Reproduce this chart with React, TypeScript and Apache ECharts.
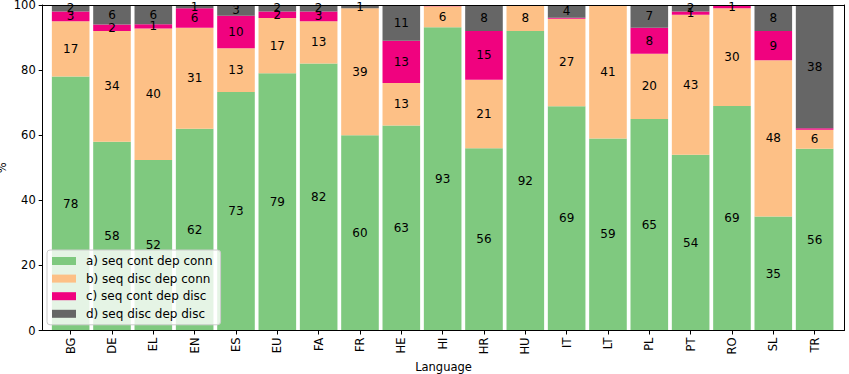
import React, { useEffect, useRef } from "react";
import * as echarts from "echarts";

// Share (%) of each dependency pattern per language
const languages = [
  "BG", "DE", "EL", "EN", "ES", "EU", "FA", "FR", "HE", "HI",
  "HR", "HU", "IT", "LT", "PL", "PT", "RO", "SL", "TR",
];
const seqContDepConn = [78, 58, 52.4, 62, 73.3, 79, 82, 60, 63, 93.2, 56, 92, 68.9, 59, 65, 54, 69, 35, 55.8];
const seqDiscDepConn = [17, 34, 40.4, 31, 13.4, 17, 13, 39, 13, 6.4, 21, 8, 26.9, 41, 20, 43, 30, 48, 5.9];
const seqContDepDisc = [3, 2, 1.3, 6, 10, 2, 3, 0, 13, 0.4, 15, 0, 0.3, 0, 8, 1, 1, 9, 0.4];
const seqDiscDepDisc = [2, 6, 5.9, 1, 3.3, 2, 2, 1, 11, 0, 8, 0, 3.9, 0, 7, 2, 0, 8, 37.9];
const yTicks = [0, 20, 40, 60, 80, 100];

const seriesDefs = [
  { name: "a) seq cont dep conn", data: seqContDepConn, color: "#7fc97f" },
  { name: "b) seq disc dep conn", data: seqDiscDepConn, color: "#fdc086" },
  { name: "c) seq cont dep disc", data: seqContDepDisc, color: "#f0027f" },
  { name: "d) seq disc dep disc", data: seqDiscDepDisc, color: "#666666" },
];

const FONT = "DejaVu Sans";

export default function App() {
  const ref = useRef<HTMLDivElement>(null);

  useEffect(() => {
    if (!ref.current) return;
    const chart = echarts.init(ref.current, null, { renderer: "svg" });

    // grid 0 holds the bars, grid 1 is the axes frame (slightly wider)
    const bars = { left: 50, right: 13.7, top: 5, bottom: 43.5 };
    const frame = { left: 42.7, right: 4.7, top: 5, bottom: 43.5 };

    const frameLine = { show: true, onZero: false, lineStyle: { color: "#000", width: 1 } };
    const axisText = { fontFamily: FONT, fontSize: 11.5, color: "#000" };

    chart.setOption({
      animation: false,
      textStyle: { fontFamily: FONT },
      grid: [
        { ...bars, containLabel: false, outerBoundsMode: "none" },
        { ...frame, containLabel: false, outerBoundsMode: "none" },
      ],
      legend: {
        orient: "vertical",
        left: 47,
        top: 250,
        icon: "rect",
        itemWidth: 24,
        itemHeight: 8,
        itemGap: 5.6,
        padding: [5, 8, 5, 5],
        backgroundColor: "rgba(255,255,255,0.8)",
        borderColor: "#cccccc",
        borderWidth: 1,
        borderRadius: 3,
        textStyle: {
          fontFamily: FONT,
          fontSize: 12,
          color: "#000",
          lineHeight: 12,
          padding: [0, 0, 0, 5],
        },
        data: seriesDefs.map((s) => s.name),
      },
      xAxis: [
        {
          type: "category",
          gridIndex: 0,
          data: languages,
          boundaryGap: true,
          axisLine: { show: false, onZero: false },
          axisTick: {
            show: true,
            alignWithLabel: true,
            length: 4,
            lineStyle: { color: "#000" },
          },
          axisLabel: { ...axisText, rotate: 90, margin: 7 },
          z: 10,
        },
        {
          type: "value",
          gridIndex: 1,
          min: 0,
          max: 1,
          position: "bottom",
          axisLine: frameLine,
          axisTick: { show: false },
          axisLabel: { show: false },
          splitLine: { show: false },
          name: "Language",
          nameLocation: "middle",
          nameGap: 30,
          nameTextStyle: axisText,
          z: 10,
        },
        {
          type: "value",
          gridIndex: 1,
          min: 0,
          max: 1,
          position: "top",
          axisLine: frameLine,
          axisTick: { show: false },
          axisLabel: { show: false },
          splitLine: { show: false },
          z: 10,
        },
      ],
      yAxis: [
        {
          type: "value",
          gridIndex: 0,
          min: 0,
          max: 100,
          show: false,
        },
        {
          type: "value",
          gridIndex: 1,
          min: yTicks[0],
          max: yTicks[yTicks.length - 1],
          interval: 20,
          position: "left",
          axisLine: frameLine,
          axisTick: { show: true, length: 4, lineStyle: { color: "#000" } },
          axisLabel: { ...axisText, margin: 7 },
          splitLine: { show: false },
          name: "%",
          nameLocation: "middle",
          nameGap: 35,
          nameMoveOverlap: false,
          nameTextStyle: axisText,
          z: 10,
        },
        {
          type: "value",
          gridIndex: 1,
          min: 0,
          max: 100,
          position: "right",
          axisLine: frameLine,
          axisTick: { show: false },
          axisLabel: { show: false },
          splitLine: { show: false },
          z: 10,
        },
      ],
      series: seriesDefs.map((s) => ({
        name: s.name,
        type: "bar",
        xAxisIndex: 0,
        yAxisIndex: 0,
        stack: "total",
        barCategoryGap: "9%",
        data: s.data,
        itemStyle: { color: s.color },
        label: {
          show: true,
          position: "inside",
          fontFamily: FONT,
          fontSize: 12,
          color: "#000",
          formatter: (p: any) => {
            const v = Math.round(p.value);
            return v >= 1 ? String(v) : "";
          },
        },
      })),
    });

    return () => chart.dispose();
  }, []);

  return (
    <div
      ref={ref}
      style={{ position: "fixed", left: 0, top: 0, width: 849, height: 374, background: "#fff" }}
    />
  );
}
